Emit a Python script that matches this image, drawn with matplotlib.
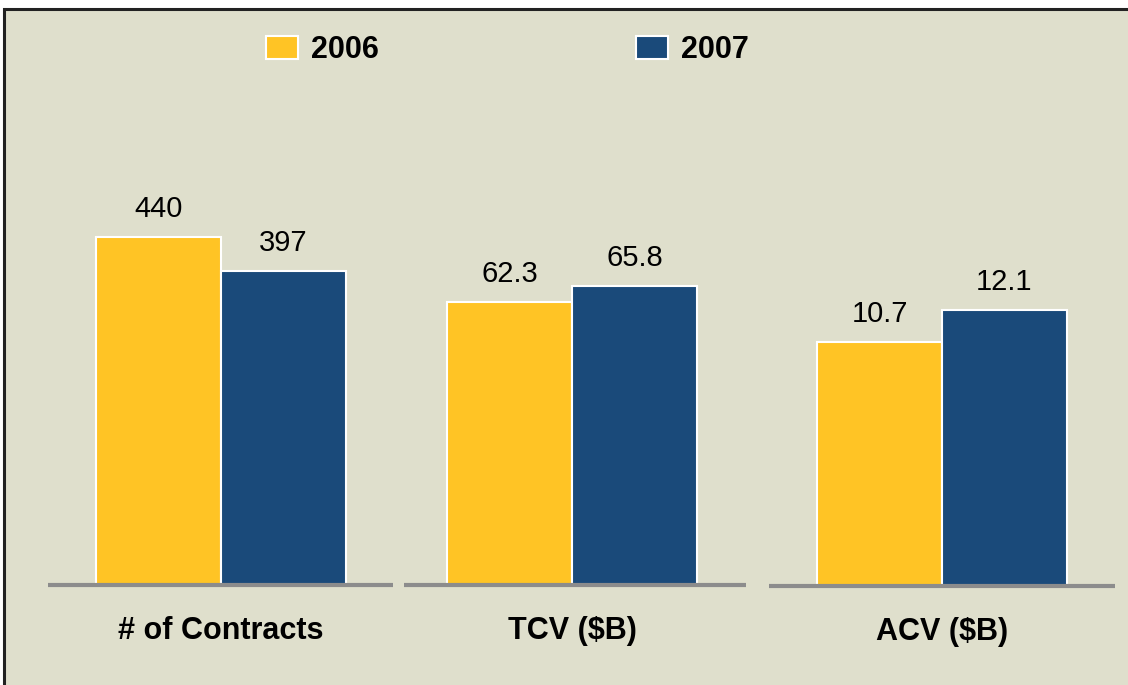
import matplotlib
matplotlib.use("Agg")
import matplotlib.pyplot as plt
from matplotlib.patches import Rectangle, Patch

categories = ["# of Contracts", "TCV ($B)", "ACV ($B)"]
series_names = ["2006", "2007"]
values_2006 = [440, 62.3, 10.7]
values_2007 = [397, 65.8, 12.1]
value_labels_2006 = ["440", "62.3", "10.7"]
value_labels_2007 = ["397", "65.8", "12.1"]

YELLOW = "#FFC425"
BLUE = "#1A4A7A"
BG = "#DFDFCC"
FONT = ["Liberation Sans", "DejaVu Sans"]

W, H = 1128, 685
fig = plt.figure(figsize=(W / 100, H / 100), dpi=100)
fig.patch.set_facecolor("white")

# background panel with border (top & left visible, right/bottom run off the image)
fig.patches.append(Rectangle((4 / W, -0.05), 1.1, 1 - 9 / H + 0.05, transform=fig.transFigure,
                             facecolor=BG, edgecolor="#222222", linewidth=2.2, zorder=-10))

panel_left = [48, 404, 769]
panel_width = [345, 342, 346]
panel_bottom = [585, 585, 586]
panel_height = 485
xlims = [(-0.884, 1.876), (-0.844, 1.892), (-0.884, 1.884)]
ylims = [614, 106.7, 21.3]

for i, cat in enumerate(categories):
    ax = fig.add_axes([panel_left[i] / W, (H - panel_bottom[i]) / H,
                       panel_width[i] / W, panel_height / H])
    ax.set_facecolor("none")
    ax.set_zorder(1)
    ax.set_xlim(*xlims[i])
    ax.set_ylim(0, ylims[i])
    vals = [values_2006[i], values_2007[i]]
    labs = [value_labels_2006[i], value_labels_2007[i]]
    bars = ax.bar([0, 1], vals, width=1.0, color=[YELLOW, BLUE],
                  edgecolor="white", linewidth=1.5, zorder=2)
    for b, lab in zip(bars, labs):
        ax.annotate(lab, (b.get_x() + b.get_width() / 2, b.get_height()),
                    xytext=(0, 14.4), textcoords="offset points",
                    ha="center", va="baseline", fontsize=21, family=FONT)
    for s in ax.spines.values():
        s.set_visible(False)
    ax.axhline(0, color="#8C8C8C", linewidth=3, zorder=3, clip_on=False,
               solid_capstyle="butt")
    ax.set_xticks([0.5])
    ax.set_xticklabels([cat], fontsize=22, fontweight="bold", family=FONT)
    ax.tick_params(axis="x", length=0, pad=22)
    ax.set_yticks([])

handles = [Patch(facecolor=YELLOW, edgecolor="white", linewidth=1.5),
           Patch(facecolor=BLUE, edgecolor="white", linewidth=1.5)]
leg = fig.legend(handles, series_names, loc="center left",
                 bbox_to_anchor=(254 / W, 1 - 50 / H), ncol=2, frameon=False,
                 prop={"family": FONT, "size": 22, "weight": "bold"},
                 handlelength=1.05, handleheight=0.8, handletextpad=0.42,
                 columnspacing=8.4, borderaxespad=0)

fig.savefig("out.png", dpi=100, facecolor=fig.get_facecolor())
